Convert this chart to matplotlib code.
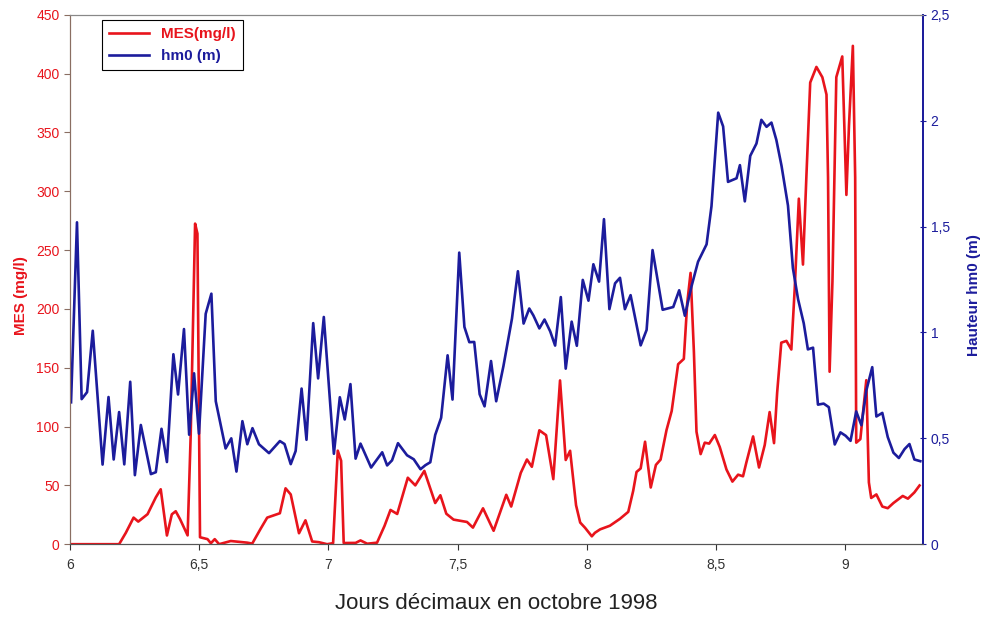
import matplotlib.pyplot as plt
import matplotlib.ticker as mticker

plt.rcParams['font.family'] = ['Liberation Sans', 'DejaVu Sans']

# hauteur significative des vagues hm0 (m)
jours_hm0 = [6.004, 6.027, 6.045, 6.066, 6.088, 6.126, 6.149, 6.169, 6.190, 6.210,
             6.233, 6.251, 6.274, 6.313, 6.332, 6.354, 6.375, 6.400, 6.418, 6.441,
             6.461, 6.480, 6.499, 6.525, 6.547, 6.564, 6.602, 6.624, 6.644, 6.667,
             6.686, 6.706, 6.731, 6.770, 6.812, 6.830, 6.854, 6.873, 6.896, 6.915,
             6.941, 6.960, 6.982, 7.021, 7.044, 7.063, 7.085, 7.105, 7.124, 7.165,
             7.208, 7.227, 7.246, 7.269, 7.304, 7.330, 7.356, 7.375, 7.394, 7.413,
             7.436, 7.461, 7.480, 7.506, 7.526, 7.545, 7.564, 7.585, 7.604, 7.629,
             7.649, 7.677, 7.710, 7.733, 7.755, 7.777, 7.793, 7.816, 7.836, 7.858,
             7.877, 7.899, 7.918, 7.941, 7.961, 7.984, 8.006, 8.025, 8.047, 8.066,
             8.087, 8.109, 8.128, 8.147, 8.169, 8.208, 8.231, 8.254, 8.293, 8.334,
             8.357, 8.379, 8.405, 8.430, 8.463, 8.482, 8.508, 8.527, 8.546, 8.579,
             8.592, 8.611, 8.632, 8.656, 8.675, 8.695, 8.714, 8.733, 8.753, 8.778,
             8.797, 8.817, 8.839, 8.855, 8.875, 8.894, 8.916, 8.936, 8.959, 8.981,
             9.001, 9.020, 9.042, 9.062, 9.081, 9.104, 9.120, 9.143, 9.164, 9.186,
             9.207, 9.229, 9.248, 9.267, 9.290]
hm0 = [0.67, 1.52, 0.685, 0.718, 1.008, 0.376, 0.695, 0.40, 0.624, 0.377,
       0.767, 0.326, 0.563, 0.331, 0.34, 0.545, 0.388, 0.897, 0.707, 1.016,
       0.517, 0.807, 0.522, 1.088, 1.183, 0.675, 0.452, 0.50, 0.343, 0.581,
       0.472, 0.548, 0.472, 0.43, 0.487, 0.473, 0.378, 0.44, 0.735, 0.493,
       1.044, 0.783, 1.073, 0.427, 0.694, 0.589, 0.756, 0.404, 0.475, 0.362,
       0.434, 0.372, 0.396, 0.477, 0.42, 0.401, 0.354, 0.373, 0.387, 0.516,
       0.597, 0.892, 0.683, 1.377, 1.026, 0.954, 0.955, 0.708, 0.651, 0.865,
       0.675, 0.841, 1.065, 1.289, 1.042, 1.113, 1.08, 1.019, 1.061, 1.005,
       0.938, 1.167, 0.829, 1.051, 0.937, 1.248, 1.15, 1.322, 1.24, 1.535,
       1.11, 1.232, 1.258, 1.11, 1.176, 0.939, 1.012, 1.389, 1.107, 1.12,
       1.199, 1.079, 1.219, 1.334, 1.416, 1.596, 2.038, 1.973, 1.711, 1.728,
       1.79, 1.619, 1.834, 1.892, 2.004, 1.971, 1.991, 1.909, 1.787, 1.599,
       1.304, 1.157, 1.043, 0.92, 0.928, 0.659, 0.664, 0.647, 0.471, 0.528,
       0.512, 0.488, 0.627, 0.562, 0.725, 0.836, 0.603, 0.62, 0.506, 0.432,
       0.407, 0.449, 0.473, 0.40, 0.392]

# matieres en suspension MES (mg/l)
jours_mes = [6.004, 6.190, 6.216, 6.246, 6.264, 6.300, 6.313, 6.332, 6.351, 6.375,
             6.394, 6.409, 6.426, 6.455, 6.467, 6.484, 6.493, 6.503, 6.532, 6.545,
             6.560, 6.577, 6.622, 6.686, 6.705, 6.738, 6.763, 6.796, 6.812, 6.834,
             6.854, 6.886, 6.911, 6.937, 6.963, 6.995, 7.018, 7.036, 7.049, 7.059,
             7.105, 7.124, 7.150, 7.188, 7.217, 7.240, 7.266, 7.307, 7.336, 7.371,
             7.413, 7.433, 7.456, 7.484, 7.536, 7.559, 7.598, 7.639, 7.688, 7.707,
             7.744, 7.768, 7.787, 7.816, 7.842, 7.870, 7.896, 7.918, 7.935, 7.958,
             7.974, 7.993, 8.019, 8.031, 8.051, 8.089, 8.128, 8.160, 8.179, 8.192,
             8.208, 8.225, 8.247, 8.267, 8.285, 8.308, 8.328, 8.353, 8.375, 8.388,
             8.401, 8.414, 8.424, 8.440, 8.456, 8.473, 8.495, 8.514, 8.540, 8.563,
             8.585, 8.604, 8.617, 8.643, 8.666, 8.688, 8.707, 8.724, 8.736, 8.752,
             8.772, 8.791, 8.804, 8.820, 8.836, 8.849, 8.864, 8.888, 8.911, 8.927,
             8.933, 8.939, 8.950, 8.965, 8.988, 9.004, 9.014, 9.029, 9.038, 9.042,
             9.058, 9.081, 9.091, 9.100, 9.120, 9.143, 9.164, 9.186, 9.222, 9.242,
             9.267, 9.287]
mes = [0, 0, 9.7, 22.6, 19.2, 25.5, 31.3, 39.8, 46.7, 7.4,
       25.4, 28, 21.2, 7.5, 93, 272.5, 264, 5.9, 4.3, 0.8,
       4.3, 0, 2.7, 1.3, 0.5, 13.3, 22.6, 25.1, 26.3, 47.5,
       42.3, 9.3, 20.3, 2.3, 1.7, 0, 0.9, 79.5, 70.9, 1,
       1.1, 3.2, 0.4, 1.3, 15.6, 29.1, 25.7, 56.5, 50, 62.3,
       35, 41.6, 25.9, 20.9, 18.9, 14.1, 30.5, 11.4, 42, 32,
       60.6, 72, 65.8, 96.8, 92.7, 55.3, 139.2, 71.6, 79.4, 33.1,
       18.4, 13.9, 6.7, 9.7, 12.6, 15.7, 21.6, 27.5, 45.3, 61.4,
       64.4, 87.1, 48.2, 67.4, 71.9, 97, 113.2, 153, 157.5, 204.6,
       230.6, 163.4, 95.6, 76.6, 86.3, 85.5, 92.8, 82.6, 63.5, 53.2,
       59.1, 57.7, 69.5, 91.6, 65.2, 84.3, 112.3, 85.9, 128.6, 171.3,
       172.8, 165.5, 217, 293.7, 237.7, 311.4, 392.4, 405.7, 396.9, 382.2,
       311.5, 146.6, 223.2, 397, 414.6, 296.9, 355.9, 423.6, 311.6, 86.3,
       89.3, 139.4, 52.5, 39.3, 42.3, 32, 30.6, 35, 41, 38.7,
       44, 49.9]

rouge = '#e8141c'
bleu = '#1c1c9c'

fig = plt.figure(figsize=(9.86, 6.17), dpi=100)
ax1 = fig.add_axes([0.071, 0.118, 0.865, 0.858])
ax2 = ax1.twinx()

l1, = ax1.plot(jours_mes, mes, color=rouge, lw=1.9, solid_joinstyle='round', label='MES(mg/l)')
l2, = ax2.plot(jours_hm0, hm0, color=bleu, lw=1.9, solid_joinstyle='round', label='hm0 (m)')

ax1.set_xlim(6, 9.3)
ax1.set_ylim(0, 450)
ax2.set_ylim(0, 2.5)

virgule = mticker.FuncFormatter(lambda v, p: ('%g' % v).replace('.', ','))
ax1.xaxis.set_major_locator(mticker.MultipleLocator(0.5))
ax1.xaxis.set_major_formatter(virgule)
ax1.yaxis.set_major_locator(mticker.MultipleLocator(50))
ax2.yaxis.set_major_locator(mticker.MultipleLocator(0.5))
ax2.yaxis.set_major_formatter(virgule)

for a in (ax1, ax2):
    a.spines['top'].set_color('#888888')
    a.spines['bottom'].set_color('#555555')
    a.spines['left'].set_color('#8a6e62')
    a.spines['right'].set_color(bleu)
    a.spines['right'].set_linewidth(1.3)

ax1.tick_params(axis='x', colors='#333333', labelsize=10, length=4, pad=6)
ax1.tick_params(axis='y', colors='#8a6e62', labelcolor=rouge, labelsize=10, length=4)
ax2.tick_params(axis='y', colors=bleu, labelcolor=bleu, labelsize=10, length=4, direction='inout')

ax1.set_ylabel('MES (mg/l)', color=rouge, fontsize=11, fontweight='bold', labelpad=6, y=0.47)
ax2.set_ylabel('Hauteur hm0 (m)', color=bleu, fontsize=11, fontweight='bold', labelpad=12, y=0.47)
ax1.set_xlabel('Jours décimaux en octobre 1998', fontsize=16, color='#222222', labelpad=15,
               family=['Liberation Sans Narrow', 'Liberation Sans', 'DejaVu Sans'])

leg = ax2.legend(handles=[l1, l2], loc='upper left', bbox_to_anchor=(0.038, 0.99),
                 borderaxespad=0, fancybox=False, framealpha=1, edgecolor='black',
                 fontsize=11, handlelength=2.6, borderpad=0.45, labelspacing=0.55)
leg.get_frame().set_linewidth(0.8)
for txt, c in zip(leg.get_texts(), [rouge, bleu]):
    txt.set_color(c)
    txt.set_fontweight('bold')

fig.savefig('out.png', dpi=100)
